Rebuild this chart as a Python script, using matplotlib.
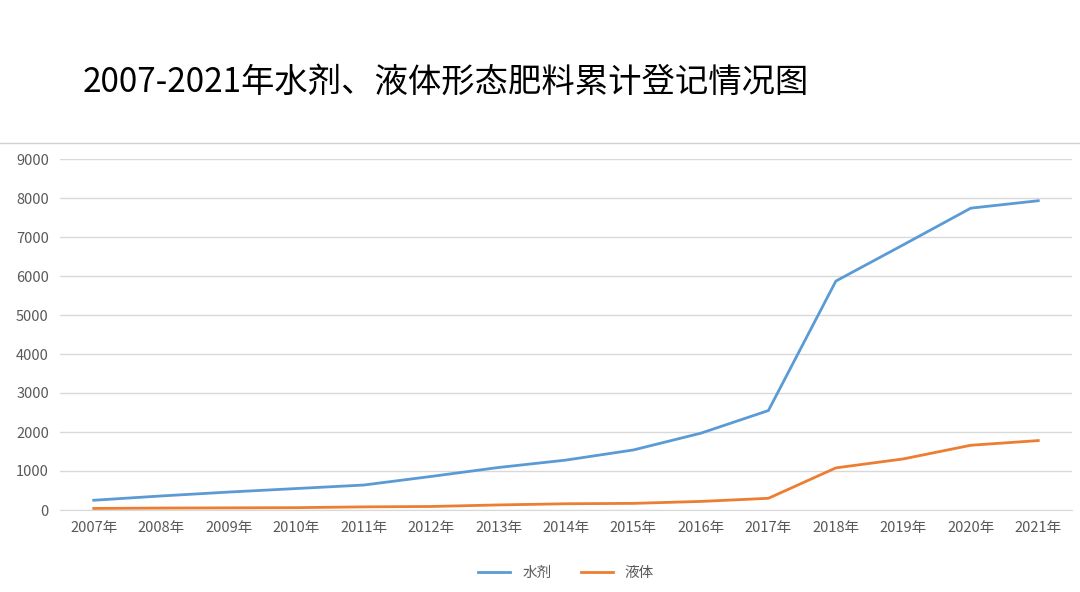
import matplotlib
matplotlib.use("Agg")
import matplotlib.pyplot as plt
from matplotlib import font_manager
from matplotlib.lines import Line2D

cjk = [f.name for f in font_manager.fontManager.ttflist if "CJK" in f.name]
pref = [n for n in ["Noto Sans CJK SC", "Noto Sans CJK JP", "Noto Sans CJK TC", "Noto Sans CJK KR"] if n in cjk]
plt.rcParams["font.family"] = "sans-serif"
plt.rcParams["font.sans-serif"] = pref + sorted(set(cjk)) + ["DejaVu Sans"]

years = ["2007年","2008年","2009年","2010年","2011年","2012年","2013年","2014年",
         "2015年","2016年","2017年","2018年","2019年","2020年","2021年"]
shuiji = [250, 360, 460, 550, 640, 860, 1090, 1280, 1540, 1970, 2550, 5870, 6800, 7740, 7930]
yeti = [40, 50, 55, 60, 80, 90, 130, 160, 170, 220, 300, 1080, 1310, 1660, 1780]
yticks = list(range(0, 9001, 1000))

fig = plt.figure(figsize=(10.8, 5.92), dpi=100)
fig.text(83/1080, 1-82/592, "2007-2021年水剂、液体形态肥料累计登记情况图",
         fontsize=24, va="center", ha="left", color="black")
fig.add_artist(Line2D([0, 1], [1-143/592]*2, color="#d0d0d0", lw=1))

ax = fig.add_axes([60/1080, 1-510/592, 1012/1080, (510-159)/592])
x = range(len(years))
ax.plot(x, shuiji, color="#5b9bd5", lw=2, label="水剂")
ax.plot(x, yeti, color="#ed7d31", lw=2, label="液体")
ax.set_xlim(-0.5, len(years)-0.5)
ax.set_ylim(0, 9000)
ax.set_yticks(yticks)
ax.set_xticks(list(x))
ax.set_xticklabels(years)
ax.grid(axis="y", color="#d9d9d9", lw=1)
ax.set_axisbelow(True)
for s in ["top", "right", "left"]:
    ax.spines[s].set_visible(False)
ax.spines["bottom"].set_color("#d9d9d9")
ax.tick_params(length=0, labelsize=10.5, colors="#595959", pad=8)
ax.legend(loc="center", bbox_to_anchor=(0.5, -0.18), ncol=2, frameon=False,
          fontsize=10.5, labelcolor="#595959", handlelength=2.2)
fig.savefig("out.png", dpi=100)
